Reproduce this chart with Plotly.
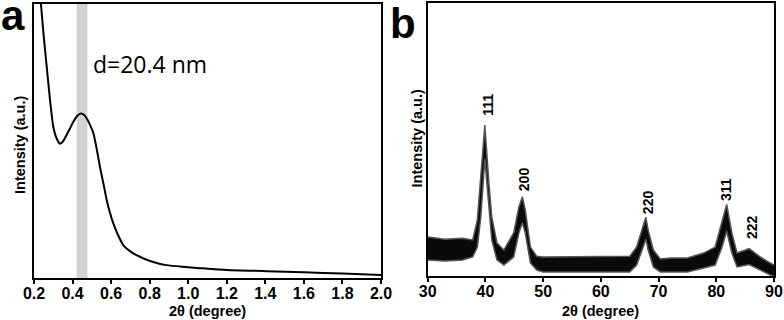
import plotly.graph_objects as go

# Panel a: small-angle XRD (2θ in degree, intensity normalised)
saxs_2theta = [0.225, 0.236, 0.249, 0.266, 0.283, 0.300, 0.317, 0.335, 0.352, 0.369, 0.386, 0.404,
               0.425, 0.444, 0.460, 0.473, 0.490, 0.508, 0.525, 0.542, 0.560, 0.577, 0.594, 0.611,
               0.637, 0.663, 0.690, 0.715, 0.760, 0.802, 0.845, 0.888, 0.97, 1.06, 1.20, 1.41,
               1.60, 1.80, 2.00]
saxs_int = [1.08, 1.00, 0.893, 0.771, 0.650, 0.552, 0.510, 0.490, 0.500, 0.522, 0.545, 0.570,
            0.592, 0.600, 0.595, 0.583, 0.560, 0.528, 0.472, 0.406, 0.345, 0.285, 0.238, 0.200,
            0.155, 0.120, 0.102, 0.090, 0.074, 0.062, 0.053, 0.047, 0.041, 0.036, 0.029, 0.025,
            0.021, 0.016, 0.011]
band_x = [0.421, 0.477]
d_label = "d=20.4 nm"

# Panel b: wide-angle XRD, read as upper / lower edges of the noisy trace
waxs_2theta = [30, 33, 36, 37.8, 38.6, 39.2, 39.9, 40.6, 41.1, 42.0, 43.2, 44.9, 45.8, 46.4,
               46.9, 47.8, 48.9, 50, 55, 60, 65, 66.2, 67.1, 67.8, 68.2, 69.1, 70.3, 72, 75,
               77.8, 79.8, 81.0, 81.8, 82.7, 83.6, 85.7, 87.6, 89.3, 90]
waxs_upper = [143, 135, 138, 132, 205, 363, 553, 341, 216, 121, 95, 158, 253, 290,
              242, 106, 72, 70, 70, 70, 72, 106, 170, 215, 168, 95, 62, 66, 66,
              84, 106, 198, 262, 158, 84, 100, 70, 48, 40]
waxs_lower = [59, 55, 59, 70, 106, 216, 430, 242, 132, 59, 40, 70, 158, 195,
              158, 48, 22, 15, 15, 15, 15, 40, 95, 135, 95, 33, 15, 15, 15,
              29, 40, 106, 165, 84, 33, 42, 22, 4, 0]
peak_labels = ["111", "200", "220", "311", "222"]
peak_pos = [40.4, 46.7, 68.1, 81.7, 86.3]
peak_lab_y = [626, 355, 269, 315, 178]

fig = go.Figure()

fig.add_trace(go.Scatter(x=saxs_2theta, y=saxs_int, mode="lines", line=dict(color="black", width=2, shape="spline", smoothing=0.6),
                         xaxis="x", yaxis="y", showlegend=False, hoverinfo="skip"))

fig.add_trace(go.Scatter(x=waxs_2theta, y=waxs_lower, mode="lines", line=dict(color="#555", width=1.5),
                         xaxis="x2", yaxis="y2", showlegend=False, hoverinfo="skip"))
fig.add_trace(go.Scatter(x=waxs_2theta, y=waxs_upper, mode="lines", line=dict(color="#555", width=1.5),
                         fill="tonexty", fillcolor="#0a0a0a",
                         xaxis="x2", yaxis="y2", showlegend=False, hoverinfo="skip"))

fig.add_shape(type="rect", xref="x", yref="y domain", x0=band_x[0], x1=band_x[1], y0=0, y1=1,
              fillcolor="#d2d2d2", line=dict(width=0), layer="below")

axis_common = dict(showline=True, linecolor="black", linewidth=1.8, mirror=True, showgrid=False, zeroline=False)
tickfont = dict(family="Liberation Sans, Arial, sans-serif", size=16, color="black", weight="bold")

fig.update_layout(
    width=784, height=320,
    margin=dict(l=0, r=0, t=0, b=0),
    paper_bgcolor="white", plot_bgcolor="white",
    xaxis=dict(domain=[34/784, 381/784], range=[0.2, 2.0], dtick=0.2, tick0=0.2, tickformat=".1f",
               ticks="outside", ticklen=4, tickwidth=1.5, tickcolor="black", tickfont=tickfont,
               ticklabelstandoff=-4, anchor="y", automargin=False, **axis_common),
    yaxis=dict(domain=[(320-278)/320, (320-4)/320], range=[0, 1], showticklabels=False, ticks="",
               anchor="x", automargin=False, **axis_common),
    xaxis2=dict(domain=[427.7/784, 774/784], range=[30, 90], dtick=10,
                ticks="outside", ticklen=4, tickwidth=1.5, tickcolor="black", tickfont=tickfont,
                ticklabelstandoff=-4, anchor="y2", automargin=False, **axis_common),
    yaxis2=dict(domain=[(320-276)/320, (320-3)/320], range=[0, 1000], showticklabels=False, ticks="",
                anchor="x2", automargin=False, **axis_common),
)

title_font = dict(family="Liberation Sans, Arial, sans-serif", size=14.5, color="black", weight="bold")
ann = []
ann.append(dict(text="2θ (degree)", x=(34+381)/2/784, y=(320-311)/320, xref="paper", yref="paper",
                showarrow=False, font=title_font, xanchor="center", yanchor="middle"))
ann.append(dict(text="2θ (degree)", x=(427.7+774)/2/784, y=(320-311)/320, xref="paper", yref="paper",
                showarrow=False, font=title_font, xanchor="center", yanchor="middle"))
ann.append(dict(text="Intensity (a.u.)", x=20/784, y=(320-145)/320, xref="paper", yref="paper",
                showarrow=False, font=title_font, textangle=-90, xanchor="center", yanchor="middle"))
ann.append(dict(text="Intensity (a.u.)", x=416.5/784, y=(320-139)/320, xref="paper", yref="paper",
                showarrow=False, font=title_font, textangle=-90, xanchor="center", yanchor="middle"))
ann.append(dict(text="a", x=13/784, y=(320-15)/320, xref="paper", yref="paper", showarrow=False,
                font=dict(family="Liberation Sans, Arial, sans-serif", size=42, color="black", weight="bold"),
                xanchor="center", yanchor="middle"))
ann.append(dict(text="b", x=403/784, y=(320-24)/320, xref="paper", yref="paper", showarrow=False,
                font=dict(family="Liberation Sans, Arial, sans-serif", size=42, color="black", weight="bold"),
                xanchor="center", yanchor="middle"))
ann.append(dict(text=d_label, x=150/784, y=(320-64)/320, xref="paper", yref="paper", showarrow=False,
                font=dict(family="Open Sans, sans-serif", size=23, color="black"),
                xanchor="center", yanchor="middle"))
for lab, px, py in zip(peak_labels, peak_pos, peak_lab_y):
    ann.append(dict(text=lab, x=px, y=py, xref="x2", yref="y2", showarrow=False, textangle=-90,
                    font=dict(family="Liberation Sans, Arial, sans-serif", size=14, color="black", weight="bold"),
                    xanchor="center", yanchor="middle"))
fig.update_layout(annotations=ann)

fig.write_html("out.html", config={"displayModeBar": False},
               post_script="document.body.style.margin='0';document.body.style.padding='0';")
